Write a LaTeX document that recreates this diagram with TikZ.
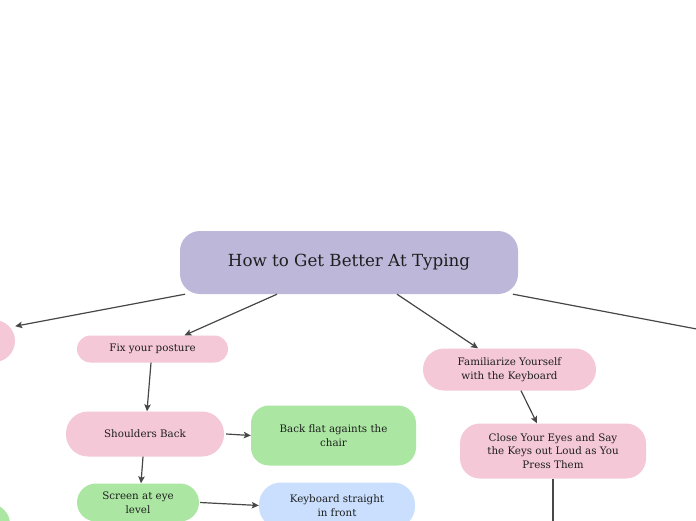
\documentclass[tikz,border=0pt]{standalone}
\usepackage{fontspec}
\setmainfont{DejaVu Serif}
\usetikzlibrary{arrows.meta}
\definecolor{MapLilac}{HTML}{BDB8DA}
\definecolor{MapPink}{HTML}{F4C8D7}
\definecolor{MapGreen}{HTML}{ABE7A3}
\definecolor{MapBlue}{HTML}{C9DFFD}
\definecolor{MapLine}{HTML}{474747}
\definecolor{MapText}{HTML}{1E1E1E}

\begin{document}
\begin{tikzpicture}[x=1pt,y=-1pt,
  topic/.style={rounded corners=#1,inner sep=0pt,align=center,text=MapText,font=\fontsize{10.3}{13.5}\selectfont},
  link/.style={draw=MapLine,line width=1.2pt,-{Stealth[length=7pt,width=6.5pt,inset=1.5pt]}}]
  \useasboundingbox (0,0) rectangle (696,520);
  \clip (0,0) rectangle (696,520);
  \fill[white] (0,0) rectangle (696,520);
  % main topic
  \node[topic=20pt,fill=MapLilac,minimum width=338pt,minimum height=63pt,font=\fontsize{16.7}{20}\selectfont] (title) at (349,262.5) {How to Get Better At Typing};
  % left branch, cut by the page edge
  \node[topic=21pt,fill=MapPink,minimum width=110pt,minimum height=42pt] (lefttopic) at (-40,341) {};
  \node[topic=20pt,fill=MapGreen,minimum width=110pt,minimum height=40pt] (leftsub) at (-45,524) {};
  % posture
  \node[topic=13.5pt,fill=MapPink,minimum width=151pt,minimum height=27pt] (posture) at (152.5,349) {Fix your posture};
  \node[topic=22pt,fill=MapPink,minimum width=158pt,minimum height=45pt] (shoulders) at (145,434) {Shoulders Back};
  \node[topic=18pt,fill=MapGreen,minimum width=165pt,minimum height=60pt] (backflat) at (333.5,435.5) {Back flat againts the\\chair};
  \node[topic=19pt,fill=MapGreen,minimum width=122pt,minimum height=38pt] (screen) at (138,502.5) {Screen at eye\\level};
  \node[topic=22pt,fill=MapBlue,minimum width=156pt,minimum height=46pt] (keyboard) at (337,505.5) {Keyboard straight\\in front};
  % keyboard
  \node[topic=21pt,fill=MapPink,minimum width=173pt,minimum height=42pt] (familiar) at (509.5,369.5) {Familiarize Yourself\\with the Keyboard};
  \node[topic=20pt,fill=MapPink,minimum width=186pt,minimum height=55pt] (closeeyes) at (553,451) {Close Your Eyes and Say\\the Keys out Loud as You\\Press Them};
  \coordinate (rightend) at (760,341);
  \coordinate (downend) at (553,530);
  % connectors
  \draw[link] ([xshift=-164pt]title.south) -- (lefttopic.15);
  \draw[link] ([xshift=-72pt]title.south) -- ([xshift=32pt]posture.north);
  \draw[link] ([xshift=48pt]title.south) -- ([xshift=-31.5pt]familiar.north);
  \draw[link] ([xshift=164pt]title.south) -- (rightend);
  \draw[link] ([xshift=-1.5pt]posture.south) -- ([xshift=2pt]shoulders.north);
  \draw[link] ([xshift=2pt]shoulders.east) -- (backflat.west);
  \draw[link] ([xshift=-2pt]shoulders.south) -- ([xshift=3pt]screen.north);
  \draw[link] ([xshift=1pt]screen.east) -- (keyboard.west);
  \draw[link] ([xshift=11.5pt]familiar.south) -- ([xshift=-16pt]closeeyes.north);
  \draw[link] (closeeyes.south) -- (downend);
\end{tikzpicture}
\end{document}
